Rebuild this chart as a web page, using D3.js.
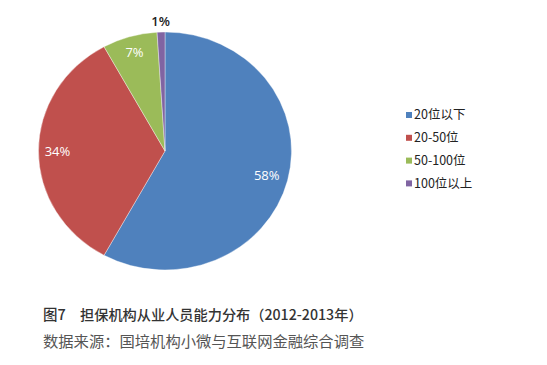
<!DOCTYPE html>
<html>
<head>
<meta charset="utf-8">
<script src="https://cdn.jsdelivr.net/npm/d3@7"></script>
<style>
  body { margin: 0; background: #fff; }
  svg { display: block; }
</style>
</head>
<body>
<script>
// chart data
var categories = ["20位以下", "20-50位", "50-100位", "100位以上"];
var values = [58, 34, 7, 1];
var labels = ["58%", "34%", "7%", "1%"];
var colors = ["#4f81bd", "#c0504d", "#9bbb59", "#8064a2"];

var width = 547, height = 365,
    cx = 165, cy = 151,
    rx = 126.5, ry = 119;

var svg = d3.select("body").append("svg")
    .attr("width", width)
    .attr("height", height);

var pie = d3.pie().sort(null).value(function (d) { return d; });
var arcs = pie(values);

var arc = d3.arc().innerRadius(0).outerRadius(ry);

// the pie in the picture is slightly wider than tall
var g = svg.append("g")
    .attr("transform", "translate(" + cx + "," + cy + ") scale(" + (rx / ry) + ",1)");

g.selectAll("path")
    .data(arcs)
    .enter().append("path")
        .attr("d", arc)
        .attr("fill", function (d, i) { return colors[i]; })
        .attr("stroke", "#fff")
        .attr("stroke-width", 0.6)
        .attr("stroke-opacity", 0.6);

// labels: inside slices in white, the tiny one outside in dark
var labelR = [0.83, 0.85, 0.865, 1.09];
svg.append("g")
    .attr("font-family", "Open Sans, Noto Sans, sans-serif")
    .attr("font-size", 13)
    .attr("text-anchor", "middle")
  .selectAll("text")
    .data(arcs)
    .enter().append("text")
        .attr("x", function (d, i) {
            var a = (d.startAngle + d.endAngle) / 2;
            return cx + Math.sin(a) * rx * labelR[i];
        })
        .attr("y", function (d, i) {
            var a = (d.startAngle + d.endAngle) / 2;
            return cy - Math.cos(a) * ry * labelR[i];
        })
        .attr("dy", "0.35em")
        .attr("fill", function (d, i) { return i === 3 ? "#222" : "#fff"; })
        .attr("font-weight", function (d, i) { return i === 3 ? 600 : "normal"; })
        .text(function (d, i) { return labels[i]; });

// legend
var legend = svg.append("g")
    .attr("font-family", "Noto Sans CJK SC, sans-serif")
    .attr("font-size", 12.5)
  .selectAll("g")
    .data(categories)
    .enter().append("g")
        .attr("transform", function (d, i) { return "translate(406," + (115 + i * 22.8) + ")"; });

legend.append("rect")
    .attr("x", 0)
    .attr("y", -3)
    .attr("width", 6)
    .attr("height", 6)
    .attr("fill", function (d, i) { return colors[i]; });

legend.append("text")
    .attr("x", 8)
    .attr("dy", "0.35em")
    .attr("fill", "#222")
    .text(function (d) { return d; });

// caption
var cap = svg.append("g")
    .attr("font-family", "Noto Sans CJK SC, sans-serif");

cap.append("text")
    .attr("x", 43)
    .attr("y", 320)
    .attr("font-size", 14.5)
    .attr("font-weight", 500)
    .attr("fill", "#333")
    .text("图7");

cap.append("text")
    .attr("x", 80)
    .attr("y", 320)
    .attr("font-size", 14.2)
    .attr("font-weight", 500)
    .attr("fill", "#333")
    .text("担保机构从业人员能力分布（2012-2013年）");

cap.append("text")
    .attr("x", 43)
    .attr("y", 347)
    .attr("font-size", 15.3)
    .attr("fill", "#555")
    .text("数据来源：国培机构小微与互联网金融综合调查");
</script>
</body>
</html>
